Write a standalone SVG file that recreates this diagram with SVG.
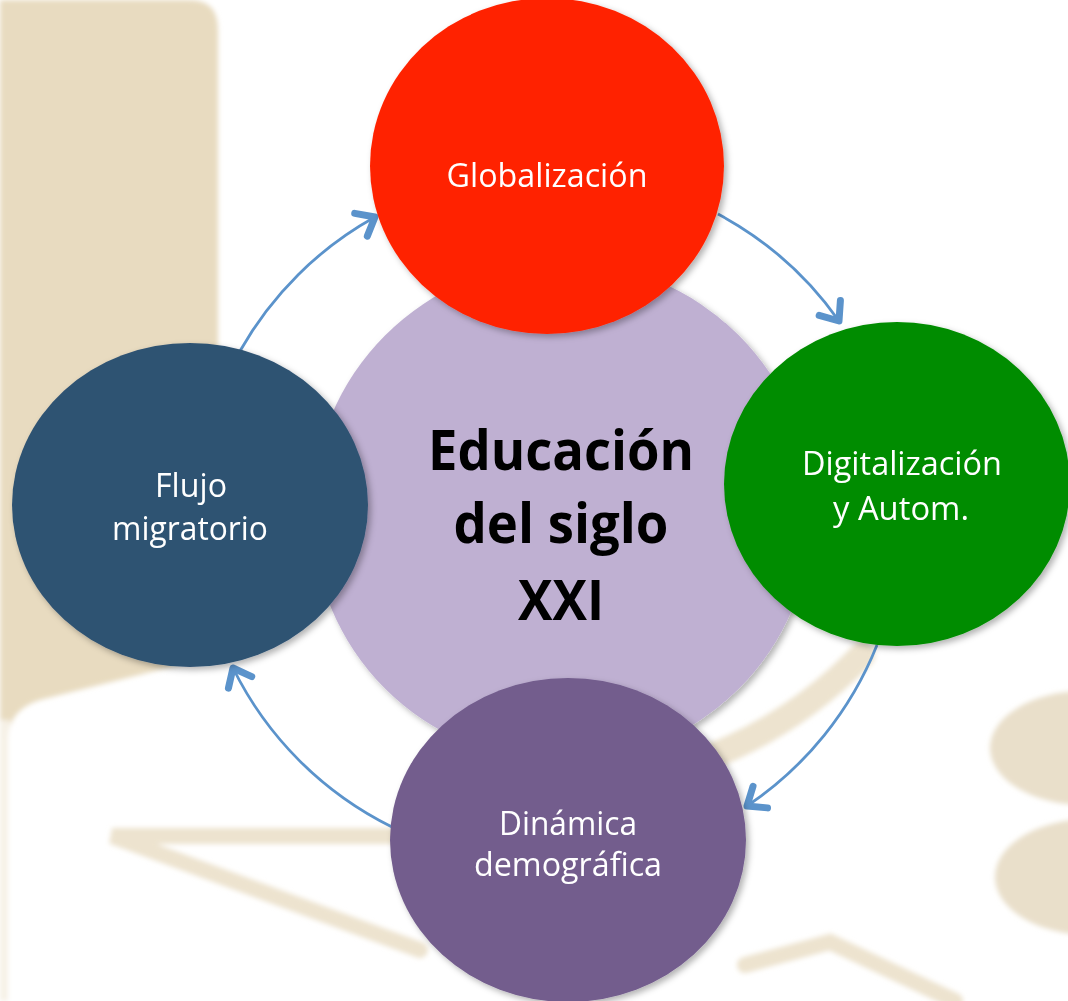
<svg xmlns="http://www.w3.org/2000/svg" width="1068" height="1001" viewBox="0 0 1068 1001">
  <style>
    .lbl { font-family: "Open Sans", "Noto Sans", sans-serif; font-size: 32px; fill: #ffffff; text-anchor: middle; }
    .ctr { font-family: "Open Sans", "Noto Sans", sans-serif; font-size: 55px; font-weight: bold; fill: #000000; text-anchor: middle; }
    .conn { fill: none; stroke: #5B93CB; stroke-width: 2.8; marker-end: url(#chev); }
    .wm { fill: #E8DBC0; }
    .wms { fill: none; stroke: #EDE3CF; stroke-linecap: round; }
  </style>
  <defs>
    <filter id="sh" x="-10%" y="-10%" width="125%" height="125%">
      <feDropShadow dx="3" dy="3" stdDeviation="3" flood-color="#000" flood-opacity="0.3"/>
    </filter>
    <filter id="blur" x="-5%" y="-5%" width="110%" height="110%">
      <feGaussianBlur stdDeviation="2.5"/>
    </filter>
    <marker id="chev" markerUnits="userSpaceOnUse" viewBox="-26 -22 34 44" refX="0" refY="0" markerWidth="34" markerHeight="44" orient="auto">
      <path d="M -16,-13 L 0,0 L -16,13" fill="none" stroke="#5B93CB" stroke-width="7" stroke-linecap="round" stroke-linejoin="round"/>
    </marker>
  </defs>

  <rect x="0" y="0" width="1068" height="1001" fill="#ffffff"/>

  <!-- faint background watermark -->
  <g id="watermark" filter="url(#blur)">
    <path class="wm" d="M 0,0 L 190,0 Q 218,0 218,30 L 218,655 L 40,700 Q 8,710 8,740 L 8,1001 L 0,1001 Z"/>
    <rect x="0" y="720" width="10" height="281" fill="#ffffff" opacity="0.6"/>
    <path class="wms" stroke-width="16" d="M 400,836 L 112,836 L 420,950"/>
    <path class="wms" stroke-width="16" d="M 745,965 L 830,942 L 955,1001"/>
    <path class="wms" stroke-width="26" d="M 862,655 Q 800,720 715,755"/>
    <ellipse cx="1085" cy="748" rx="95" ry="57" fill="#E9DFCA"/>
    <ellipse cx="1090" cy="877" rx="95" ry="58" fill="#E9DFCA"/>
  </g>

  <g id="center">
    <circle cx="562" cy="512" r="250" fill="#BFB0D2" filter="url(#sh)"/>
    <text class="ctr" x="561" y="470" textLength="266" lengthAdjust="spacingAndGlyphs">Educación</text>
    <text class="ctr" x="561" y="543" textLength="215" lengthAdjust="spacingAndGlyphs">del siglo</text>
    <text class="ctr" x="561" y="620" textLength="86" lengthAdjust="spacingAndGlyphs">XXI</text>
  </g>

  <g id="connectors">
    <path class="conn" d="M 240,351 A 350 350 0 0 1 375,217"/>
    <path class="conn" d="M 718,214 A 350 350 0 0 1 839,321"/>
    <path class="conn" d="M 877,645 A 350 350 0 0 1 747,806"/>
    <path class="conn" d="M 392,827 A 350 350 0 0 1 233,668"/>
  </g>

  <g id="globalizacion">
    <ellipse cx="547" cy="166" rx="177" ry="168" fill="#FF2400" filter="url(#sh)"/>
    <text class="lbl" x="547" y="187" textLength="201" lengthAdjust="spacingAndGlyphs">Globalización</text>
  </g>

  <g id="digitalizacion">
    <ellipse cx="897" cy="484" rx="173" ry="162" fill="#008C00" filter="url(#sh)"/>
    <text class="lbl" x="902" y="475" textLength="200" lengthAdjust="spacingAndGlyphs">Digitalización</text>
    <text class="lbl" x="901" y="520" textLength="136" lengthAdjust="spacingAndGlyphs">y Autom.</text>
  </g>

  <g id="dinamica">
    <ellipse cx="568" cy="840" rx="178" ry="162" fill="#735D8D" filter="url(#sh)"/>
    <text class="lbl" x="568" y="835" textLength="138" lengthAdjust="spacingAndGlyphs">Dinámica</text>
    <text class="lbl" x="568" y="876" textLength="188" lengthAdjust="spacingAndGlyphs">demográfica</text>
  </g>

  <g id="flujo">
    <ellipse cx="190" cy="505" rx="178" ry="162" fill="#2F5272" filter="url(#sh)"/>
    <text class="lbl" x="191" y="497" textLength="72" lengthAdjust="spacingAndGlyphs">Flujo</text>
    <text class="lbl" x="190" y="540" textLength="156" lengthAdjust="spacingAndGlyphs">migratorio</text>
  </g>
</svg>
